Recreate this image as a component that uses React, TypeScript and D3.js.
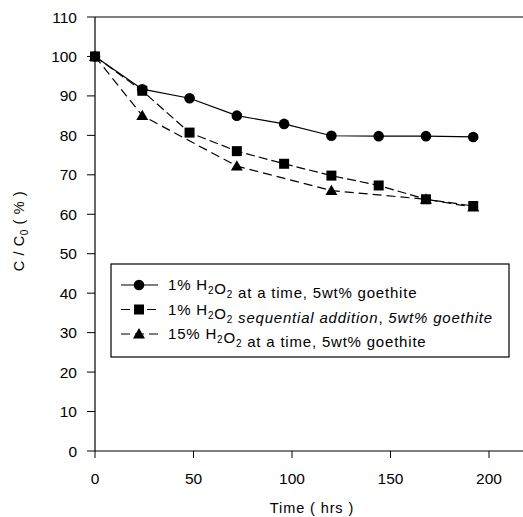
import * as d3 from "d3";

const hours = [0, 24, 48, 72, 96, 120, 144, 168, 192];
const oneAtATime = [100, 91.7, 89.4, 85.0, 82.9, 79.9, 79.8, 79.8, 79.6];
const oneSequential = [100, 91.3, 80.7, 76.0, 72.8, 69.8, 67.3, 63.8, 62.1];
const triHours = [0, 24, 72, 120, 168, 192];
const fifteenAtATime = [100, 85.0, 72.2, 66.0, 63.8, 61.8];
const xTicks = [0, 50, 100, 150, 200];
const yTicks = [0, 10, 20, 30, 40, 50, 60, 70, 80, 90, 100, 110];

const W = 523;
const H = 517;
const font = "'Liberation Sans', Arial, sans-serif";

export default function App() {
  const x = d3.scaleLinear().domain([0, 220]).range([95, 528.4]);
  const y = d3.scaleLinear().domain([0, 110]).range([451, 17]);

  const lineA = d3.line<number>().x((d, i) => x(hours[i])).y((d) => y(d));
  const lineC = d3.line<number>().x((d, i) => x(triHours[i])).y((d) => y(d));

  const tri = d3.symbol().type(d3.symbolTriangle).size(62)();
  const sq = 10;

  const legendRows = [
    { y: 285, kind: "circle", dash: "none" },
    { y: 309.5, kind: "square", dash: "9,4" },
    { y: 334, kind: "triangle", dash: "9,5" },
  ];

  const sub = (t: string) => (
    <>
      <tspan dy={4} fontSize={10}>{t}</tspan>
      <tspan dy={-4}></tspan>
    </>
  );

  const marker = (kind: string, cx: number, cy: number, key?: any) => {
    if (kind === "circle") return <circle key={key} cx={cx} cy={cy} r={5.3} fill="#000" />;
    if (kind === "square")
      return <rect key={key} x={cx - sq / 2} y={cy - sq / 2} width={sq} height={sq} fill="#000" />;
    return <path key={key} d={tri!} transform={`translate(${cx},${cy + 1})`} fill="#000" />;
  };

  return (
    <svg width={W} height={H} style={{ position: "absolute", left: 0, top: 0, background: "#fff" }} fontFamily={font}>
      {/* frame */}
      <line x1={95} x2={W} y1={17} y2={17} stroke="#000" strokeWidth={1.2} />
      <line x1={95} x2={95} y1={17} y2={451} stroke="#000" strokeWidth={1.2} />
      <line x1={95} x2={W} y1={451} y2={451} stroke="#000" strokeWidth={1.2} />

      {yTicks.map((t) => (
        <g key={t}>
          <line x1={87} x2={95} y1={y(t)} y2={y(t)} stroke="#000" strokeWidth={1} />
          <text x={77} y={y(t)} dy="0.36em" textAnchor="end" fontSize={15.5}>{t}</text>
        </g>
      ))}
      {xTicks.map((t) => (
        <g key={t}>
          <line x1={x(t)} x2={x(t)} y1={451} y2={458} stroke="#000" strokeWidth={1} />
          <text x={x(t)} y={478} dy="0.36em" textAnchor="middle" fontSize={15.5}>{t}</text>
        </g>
      ))}

      <text x={312} y={508} dy="0.36em" textAnchor="middle" fontSize={14.5} letterSpacing={0.9}>Time ( hrs )</text>
      <text transform="translate(24,231) rotate(-90)" textAnchor="middle" fontSize={14.5} letterSpacing={0.6}>
        C / C<tspan dy={4} fontSize={10}>0</tspan><tspan dy={-4}> ( % )</tspan>
      </text>

      {/* series */}
      <path d={lineA(oneAtATime)!} fill="none" stroke="#000" strokeWidth={1.2} />
      <path d={lineA(oneSequential)!} fill="none" stroke="#000" strokeWidth={1.2} strokeDasharray="9,4" />
      <path d={lineC(fifteenAtATime)!} fill="none" stroke="#000" strokeWidth={1.2} strokeDasharray="9,5" />
      {fifteenAtATime.map((v, i) => marker("triangle", x(triHours[i]), y(v), "t" + i))}
      {oneSequential.map((v, i) => marker("square", x(hours[i]), y(v), "s" + i))}
      {oneAtATime.map((v, i) => marker("circle", x(hours[i]), y(v), "c" + i))}

      {/* legend */}
      <rect x={111} y={264} width={398} height={93} fill="#fff" stroke="#000" strokeWidth={1.2} />
      {legendRows.map((r) => (
        <g key={r.kind}>
          <line x1={121} x2={158} y1={r.y} y2={r.y} stroke="#000" strokeWidth={1.2} strokeDasharray={r.dash} />
          {marker(r.kind, 139, r.y)}
        </g>
      ))}
      <g fontSize={15} letterSpacing={0.8}>
        <text x={168} y={285} dy="0.36em">
          1% H{sub("2")}O{sub("2")} at a time, 5wt% goethite
        </text>
        <text x={168} y={309.5} dy="0.36em">
          1% H{sub("2")}O{sub("2")} <tspan fontStyle="italic">sequential addition</tspan>, <tspan fontStyle="italic">5wt% goethite</tspan>
        </text>
        <text x={168} y={334} dy="0.36em">
          15% H{sub("2")}O{sub("2")} at a time, 5wt% goethite
        </text>
      </g>
    </svg>
  );
}
